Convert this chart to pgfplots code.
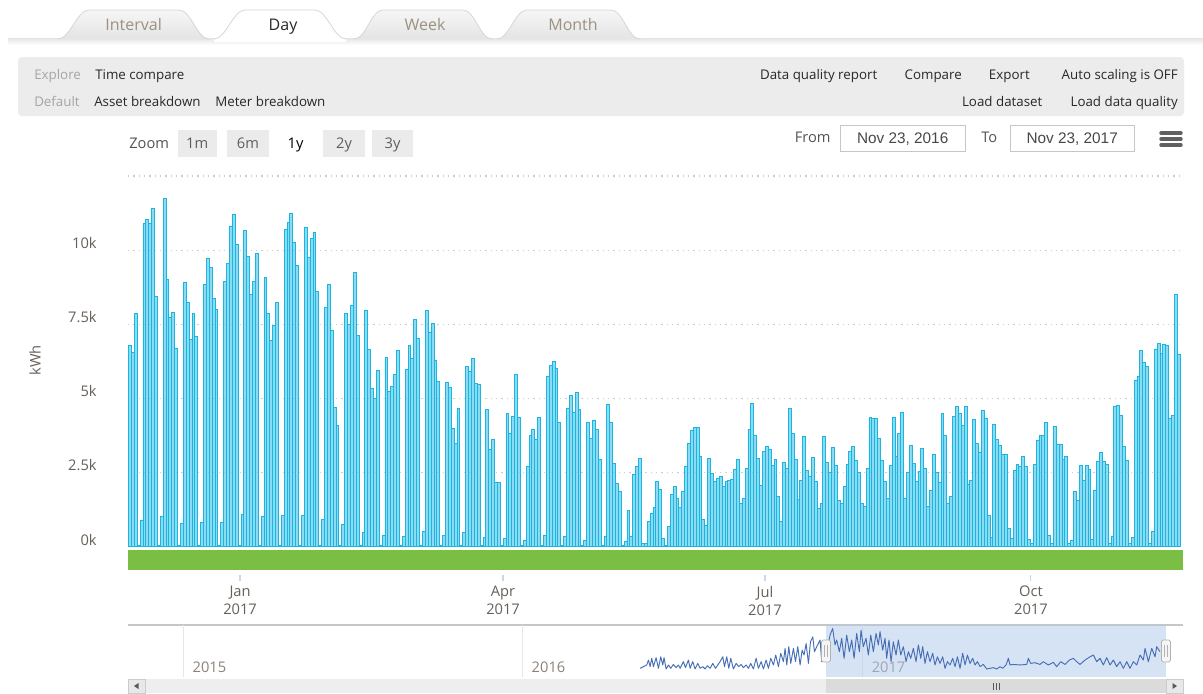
\documentclass[border=0pt]{standalone}
\usepackage{fontspec}
\setmainfont{Open Sans}
\newfontfamily\datefont{Liberation Sans}
\usepackage{pgfplots}
\pgfplotsset{compat=1.18}
\usepackage{pgfplotstable}

\definecolor{barfill}{RGB}{90,205,237}
\definecolor{barline}{RGB}{28,181,226}
\definecolor{gridc}{RGB}{205,205,205}
\definecolor{greenc}{RGB}{122,190,68}
\definecolor{tickc}{RGB}{204,214,235}
\definecolor{labc}{RGB}{102,96,90}
\definecolor{navline}{RGB}{70,110,180}
\definecolor{navsel}{RGB}{175,201,237}
\definecolor{navgrid}{RGB}{230,230,230}
\definecolor{navlab}{RGB}{140,130,120}
\definecolor{tbbg}{RGB}{236,236,236}
\definecolor{btnbg}{RGB}{235,235,235}
\definecolor{tabtop}{RGB}{246,246,246}
\definecolor{tabbot}{RGB}{228,228,228}
\definecolor{tabedge}{RGB}{214,214,214}
\definecolor{tabtxt}{RGB}{155,145,130}
\definecolor{dark}{RGB}{40,40,40}
\definecolor{lgray}{RGB}{165,165,165}

% daily kWh (thousands), 23 Nov 2016 onwards
\pgfplotstableread[row sep=\\]{
v\\
6.8\\ 6.55\\ 7.87\\ 0.05\\ 0.87\\
10.9\\ 11.05\\ 10.9\\ 11.4\\ 8.45\\ 0.05\\ 1.0\\
11.75\\ 9.0\\ 7.73\\ 7.9\\ 6.7\\ 0.05\\ 0.78\\
8.9\\ 8.25\\ 7.0\\ 7.87\\ 7.1\\ 0.05\\ 0.8\\
8.85\\ 9.72\\ 9.4\\ 8.37\\ 8.0\\ 0.05\\ 0.8\\
8.95\\ 9.55\\ 10.8\\ 11.2\\ 10.2\\ 0.05\\ 1.1\\
10.65\\ 9.8\\ 8.5\\ 8.95\\ 9.9\\ 0.05\\ 1.0\\
9.07\\ 7.85\\ 6.95\\ 7.45\\ 8.22\\ 0.05\\ 1.05\\
10.7\\ 10.95\\ 11.25\\ 10.25\\ 9.5\\ 0.05\\ 1.05\\
10.75\\ 9.77\\ 10.4\\ 10.6\\ 8.6\\ 0.05\\ 0.9\\
8.08\\ 8.85\\ 7.3\\ 4.7\\ 4.1\\ 0.05\\ 0.74\\
7.87\\ 7.5\\ 8.15\\ 9.24\\ 7.13\\ 0.05\\ 0.48\\
7.97\\ 6.64\\ 5.32\\ 5.0\\ 5.93\\ 0.05\\ 0.39\\
6.38\\ 5.23\\ 5.4\\ 5.82\\ 6.6\\ 0.05\\ 0.33\\
5.99\\ 6.8\\ 6.35\\ 7.66\\ 7.03\\ 0.05\\ 0.52\\
7.95\\ 7.22\\ 7.52\\ 6.29\\ 5.58\\ 0.05\\ 0.38\\
5.52\\ 5.37\\ 4.0\\ 3.48\\ 4.66\\ 0.05\\ 0.48\\
6.07\\ 5.9\\ 6.33\\ 5.5\\ 5.46\\ 0.05\\ 0.3\\
4.63\\ 3.28\\ 3.61\\ 2.17\\ 2.17\\ 0.05\\ 0.27\\
4.49\\ 3.82\\ 4.38\\ 5.82\\ 4.35\\ 0.05\\ 0.19\\
2.69\\ 3.75\\ 3.95\\ 3.61\\ 4.35\\ 0.05\\ 0.39\\
5.73\\ 6.11\\ 6.26\\ 6.02\\ 4.18\\ 0.05\\ 0.35\\
4.66\\ 5.1\\ 4.52\\ 5.19\\ 4.63\\ 0.05\\ 0.19\\
4.18\\ 3.65\\ 4.27\\ 3.95\\ 2.94\\ 0.05\\ 0.35\\
4.78\\ 4.18\\ 2.82\\ 2.12\\ 1.85\\ 0.05\\ 0.16\\
1.22\\ 0.35\\ 2.43\\ 2.7\\ 2.98\\ 0.1\\ 0.1\\
0.84\\ 1.12\\ 1.32\\ 2.19\\ 1.94\\ 0.27\\ 0.05\\
0.67\\ 1.76\\ 2.04\\ 1.63\\ 1.32\\ 1.85\\ 2.7\\
3.48\\ 3.91\\ 4.01\\ 4.01\\ 3.03\\ 0.92\\ 0.72\\
2.96\\ 2.47\\ 2.19\\ 2.3\\ 2.38\\ 2.02\\ 2.19\\
2.24\\ 2.28\\ 2.6\\ 2.94\\ 1.46\\ 1.63\\ 2.64\\
3.95\\ 4.83\\ 3.74\\ 2.98\\ 2.07\\ 3.22\\ 3.39\\
3.28\\ 2.74\\ 2.94\\ 1.7\\ 0.84\\ 2.83\\ 2.64\\
4.66\\ 3.8\\ 2.94\\ 1.6\\ 2.24\\ 3.7\\ 2.56\\
2.36\\ 3.0\\ 2.19\\ 1.27\\ 1.46\\ 3.7\\ 2.83\\
2.49\\ 3.36\\ 2.73\\ 1.55\\ 1.46\\ 2.02\\ 2.78\\
3.22\\ 3.37\\ 2.9\\ 2.5\\ 1.46\\ 1.34\\ 2.64\\
4.35\\ 4.33\\ 4.31\\ 3.65\\ 2.9\\ 2.19\\ 1.62\\
2.73\\ 4.35\\ 3.03\\ 3.82\\ 4.52\\ 1.63\\ 2.5\\
3.42\\ 2.8\\ 2.19\\ 2.55\\ 3.31\\ 2.64\\ 1.34\\
1.9\\ 3.12\\ 2.5\\ 2.15\\ 4.49\\ 3.76\\ 1.46\\
1.7\\ 4.4\\ 4.72\\ 4.5\\ 4.1\\ 4.74\\ 2.11\\
2.24\\ 4.3\\ 3.48\\ 3.18\\ 4.6\\ 4.32\\ 1.06\\
0.3\\ 4.13\\ 3.61\\ 3.42\\ 3.12\\ 3.12\\ 0.61\\
0.27\\ 2.58\\ 2.78\\ 2.69\\ 3.03\\ 2.69\\ 0.24\\
0.1\\ 2.78\\ 3.57\\ 3.76\\ 3.76\\ 4.19\\ 0.39\\
0.1\\ 4.04\\ 3.46\\ 3.46\\ 2.94\\ 3.03\\ 0.1\\
0.2\\ 1.85\\ 1.55\\ 2.73\\ 2.24\\ 2.73\\ 2.6\\
0.24\\ 1.9\\ 2.86\\ 3.17\\ 2.86\\ 2.78\\ 0.1\\
0.33\\ 4.74\\ 4.77\\ 4.44\\ 3.39\\ 2.92\\ 0.1\\
0.3\\ 5.62\\ 5.75\\ 6.6\\ 6.2\\ 6.07\\ 0.1\\
0.5\\ 6.65\\ 6.85\\ 6.52\\ 6.82\\ 6.8\\ 4.32\\
4.44\\ 8.5\\ 6.48\\
}\daily

% navigator line, day index (0 = 23 Nov 2016) and kWh (thousands)
\pgfplotstableread[row sep=\\]{
k v\\
-201.9 0.19\\ -198.3 0.67\\ -194.7 1.15\\ -192.9 2.57\\ -191.1 0.67\\ -189.3 3.05\\
-187.5 0.67\\ -184.6 3.24\\ -182.1 0.19\\ -179.6 3.5\\ -177.4 1.15\\ -176.0 3.24\\
-173.8 0\\ -171.3 1.15\\ -168.8 0.19\\ -165.9 1.3\\ -163.0 0.38\\ -160.5 1.15\\
-158.7 0.19\\ -155.1 2.1\\ -152.9 0.38\\ -149.7 2.57\\ -147.9 0.19\\ -145.0 2.1\\
-142.5 0\\ -139.6 1.6\\ -137.1 0.19\\ -134.2 0.67\\ -131.7 0\\ -129.2 0.95\\
-126.3 0.19\\ -123.4 1.6\\ -120.5 0.19\\ -118.0 1.15\\ -115.5 2.1\\ -112.6 3.5\\
-110.8 0.67\\ -108.3 3.5\\ -106.1 0.19\\ -104.0 3.05\\ -101.1 0\\ -98.2 1.6\\
-95.3 0.67\\ -92.8 1.3\\ -90.3 0.38\\ -87.4 1.15\\ -84.9 0.19\\ -82.4 1.6\\
-79.5 0\\ -76.6 3.05\\ -74.1 0.19\\ -71.2 2.1\\ -68.7 0\\ -65.8 2.57\\
-63.3 0.19\\ -60.8 3.05\\ -57.9 1.15\\ -55.4 4.0\\ -52.5 0.67\\ -50.0 4.5\\
-47.1 2.1\\ -45.3 5.9\\ -43.5 1.15\\ -41.3 6.4\\ -39.2 1.6\\ -36.3 5.9\\
-34.1 2.1\\ -31.6 6.4\\ -29.1 1.15\\ -26.9 5.4\\ -24.8 4.0\\ -22.6 7.3\\
-20.1 1.6\\ -17.9 7.8\\ -15.4 9.2\\ -13.6 4.95\\ -11.1 6.4\\ -7.5 8.3\\
-5.8 2.1\\ 0.4 5.9\\ 3.2 9.7\\ 6.1 11.6\\ 8.6 6.9\\ 10.4 8.3\\
13.3 4.95\\ 15.8 8.8\\ 18.4 3.05\\ 21.2 9.7\\ 24.1 4.95\\ 26.6 8.3\\
29.2 3.05\\ 32.0 10.2\\ 34.9 4.95\\ 36.7 11.1\\ 39.2 6.4\\ 42.1 8.8\\
44.6 4.0\\ 47.2 9.7\\ 50.0 4.95\\ 52.9 10.2\\ 55.4 6.9\\ 57.2 10.7\\
60.1 5.4\\ 62.6 8.8\\ 64.4 3.05\\ 66.9 8.3\\ 69.1 2.1\\ 71.6 7.8\\
74.5 4.0\\ 77.0 8.3\\ 79.6 4.0\\ 82.4 6.4\\ 85.3 2.1\\ 87.8 4.95\\
90.4 3.05\\ 93.2 5.9\\ 96.1 2.1\\ 98.6 6.9\\ 101.2 3.05\\ 103.3 6.4\\
105.8 1.6\\ 108.4 4.95\\ 111.2 2.1\\ 114.1 4.5\\ 116.6 1.15\\ 119.2 3.5\\
122.0 1.6\\ 124.9 3.5\\ 127.4 0.19\\ 130.0 2.1\\ 132.8 1.15\\ 135.7 3.05\\
138.2 0.67\\ 140.8 3.5\\ 143.6 0.19\\ 146.5 4.5\\ 149.0 1.15\\ 151.6 4.0\\
154.4 1.6\\ 157.3 3.05\\ 159.8 1.15\\ 162.4 2.1\\ 165.2 0.67\\ 168.8 1.3\\
172.4 0\\ 176.0 0.19\\ 179.6 0.38\\ 183.2 0\\ 186.8 0.67\\ 189.7 0.19\\
193.3 1.15\\ 195.8 3.05\\ 197.6 1.15\\ 201.2 1.3\\ 208.4 1.15\\ 215.6 1.3\\
217.4 3.05\\ 219.9 1.6\\ 224.6 1.8\\ 230.0 1.3\\ 233.6 2.1\\ 239.0 1.15\\
244.4 1.9\\ 248.0 0.67\\ 252.4 2.1\\ 257.0 1.3\\ 261.7 2.57\\ 266.0 3.05\\
269.6 2.1\\ 273.2 1.3\\ 278.6 2.57\\ 284.0 3.5\\ 287.6 4.0\\ 291.2 2.1\\
294.8 3.05\\ 298.4 1.15\\ 302.0 3.24\\ 305.6 1.15\\ 309.2 2.57\\ 312.8 0.67\\
316.4 2.1\\ 320.0 0.19\\ 323.6 2.1\\ 327.2 0.19\\ 330.8 2.1\\ 334.4 1.15\\
338.0 4.0\\ 341.6 2.57\\ 343.4 5.9\\ 347.0 2.1\\ 350.6 5.9\\ 354.2 3.5\\
356.0 6.4\\ 359.6 4.95\\
}\nav

\newcommand\tabpath[4]{(#1,39) .. controls (#1+12,39) and (#2-5,10) .. (#2+7,10) -- (#3-7,10) .. controls (#3+5,10) and (#4-12,39) .. (#4,39)}
\newcommand\tbf{\fontsize{10}{12}\selectfont}
\newcommand\bigf{\fontsize{11}{13}\selectfont}

\begin{document}
\begin{tikzpicture}
\begin{scope}[x=0.75pt,y=-0.75pt]
\path[use as bounding box] (0,0) rectangle (1203,693);
\fill[white] (0,0) rectangle (1203,693);
% tabs
\shade[top color=tabbot, bottom color=white] (8,38) rectangle (1203,45);
\foreach \a/\b/\c/\d in {58/82/186/209, 354/376/470/492, 497/520/618/640}{
  \shade[top color=tabtop, bottom color=tabbot] \tabpath{\a}{\b}{\c}{\d} -- cycle;
  \draw[tabedge, line width=0.6pt] \tabpath{\a}{\b}{\c}{\d};
}
\fill[white] \tabpath{214}{238}{322}{346} -- (346,42) -- (214,42) -- cycle;
\draw[tabedge, line width=0.6pt] \tabpath{214}{238}{322}{346};
\node[anchor=base, text=tabtxt, font=\fontsize{12}{14}\selectfont] at (133.6,30.7) {Interval};
\node[anchor=base, text=dark, font=\fontsize{12}{14}\selectfont] at (283,30.7) {Day};
\node[anchor=base, text=tabtxt, font=\fontsize{12}{14}\selectfont] at (425,30.7) {Week};
\node[anchor=base, text=tabtxt, font=\fontsize{12}{14}\selectfont] at (573,30.7) {Month};
% toolbar
\fill[tbbg, rounded corners=3pt] (18,57) rectangle (1184,116);
\node[anchor=base west, text=lgray, font=\tbf, inner sep=0] at (34,79) {Explore};
\node[anchor=base west, text=dark, font=\tbf, inner sep=0] at (95,79) {Time compare};
\node[anchor=base west, text=lgray, font=\tbf, inner sep=0] at (34,106.5) {Default};
\node[anchor=base west, text=dark, font=\tbf, inner sep=0] at (94,106.5) {Asset breakdown};
\node[anchor=base west, text=dark, font=\tbf, inner sep=0] at (215,106.5) {Meter breakdown};
\node[anchor=base east, text=dark, font=\tbf, inner sep=0] at (877.5,79) {Data quality report};
\node[anchor=base east, text=dark, font=\tbf, inner sep=0] at (962,79) {Compare};
\node[anchor=base east, text=dark, font=\tbf, inner sep=0] at (1030,79) {Export};
\node[anchor=base east, text=dark, font=\tbf, inner sep=0] at (1178,79) {Auto scaling is OFF};
\node[anchor=base east, text=dark, font=\tbf, inner sep=0] at (1042.6,106.5) {Load dataset};
\node[anchor=base east, text=dark, font=\tbf, inner sep=0] at (1178,106.5) {Load data quality};
% zoom buttons
\node[anchor=base west, text=dark!80, font=\bigf, inner sep=0] at (129,148.2) {Zoom};
\foreach \l/\r/\t in {178/216.5/1m, 227/269/6m, 323/365/2y, 372/413/3y}{
  \fill[btnbg] (\l,130) rectangle (\r,157);
  \node[anchor=base, text=dark!75, font=\bigf, inner sep=0] at ({(\l+\r)/2},148.2) {\t};
}
\node[anchor=base, text=black, font=\bigf, inner sep=0] at (295.5,148.2) {1y};
% date range
\node[anchor=base west, text=dark!80, font=\bigf, inner sep=0] at (794.6,142.3) {From};
\node[anchor=base west, text=dark!80, font=\bigf, inner sep=0] at (981,142.3) {To};
\filldraw[fill=white, draw=gray!45, line width=0.7pt] (840.5,125) rectangle (965,151);
\filldraw[fill=white, draw=gray!45, line width=0.7pt] (1010,125) rectangle (1134.5,151);
\node[anchor=base, text=dark!85, font=\datefont\fontsize{11.5}{13}\selectfont, inner sep=0] at (902.7,143.5) {Nov 23, 2016};
\node[anchor=base, text=dark!85, font=\datefont\fontsize{11.5}{13}\selectfont, inner sep=0] at (1072.2,143.5) {Nov 23, 2017};
\foreach \yy in {133,139,145}
  \draw[gray!75!black, line width=2.6pt, line cap=round] (1161,\yy) -- (1181,\yy);
% data quality band
\fill[greenc] (128,550) rectangle (1183,570);
\draw[gray!45, line width=1pt] (128,625) -- (1183,625);
\end{scope}

% main chart
\begin{axis}[
  at={(96pt,-409.875pt)}, anchor=south west,
  scale only axis, width=791.25pt, height=277.875pt,
  xmin=-0.69, xmax=365.5, ymin=0, ymax=12.5,
  axis line style={draw=none},
  ybar, bar width=1,
  tick pos=left,
  ytick={0,2.5,5,7.5,10,12.5},
  yticklabels={0k,2.5k,5k,7.5k,10k,{}},
  ymajorgrids,
  major grid style={draw=gridc, line width=0.9pt, dash pattern=on 1.1pt off 2.9pt},
  ytick style={draw=none},
  yticklabel style={font=\bigf, text=labc, xshift=-20pt, yshift=5.25pt},
  xtick={38.2,129.5,220.4,312.7},
  xticklabels={{Jan\\2017},{Apr\\2017},{Jul\\2017},{Oct\\2017}},
  xticklabel style={align=center, font=\fontsize{11}{13.5}\selectfont, text=labc, yshift=-21.8pt},
  xtick style={draw=tickc, line width=0.9pt, yshift=-21.4pt},
  major tick length=4.5pt,
  ylabel={kWh},
  every axis y label/.style={at={([xshift=-69.75pt]rel axis cs:0,0.503)}, rotate=90, anchor=center, font=\bigf, text=labc},
]
\addplot[fill=barfill, fill opacity=0.7, draw=barline, line width=0.6pt]
  table[x expr=\coordindex, y=v] {\daily};
\end{axis}

% navigator
\begin{axis}[
  at={(96pt,-507.75pt)}, anchor=south west,
  scale only axis, width=791.25pt, height=39pt,
  xmin=-754.9, xmax=384.4, ymin=-2.3, ymax=12.6,
  axis line style={draw=none},
  ytick=\empty,
  xtick={-695.5,-329.4,37.8},
  xticklabels={2015,2016,2017},
  xmajorgrids,
  major grid style={draw=navgrid, line width=0.75pt},
  major tick length=0pt,
  xticklabel style={anchor=base west, font=\bigf, text=navlab, xshift=3.75pt, yshift=3.75pt},
]
\fill[navsel, fill opacity=0.5] (axis cs:-1.08,-2.3) rectangle (axis cs:366.1,12.6);
\addplot[draw=navline, line width=0.7pt, line join=round] table[x=k, y=v] {\nav};
\end{axis}

\begin{scope}[x=0.75pt,y=-0.75pt]
% scrollbar
\fill[gray!13] (128,679) rectangle (1183,693);
\fill[gray!28] (826,679) rectangle (1166,693);
\foreach \xx in {993,996,999} \draw[gray!70!black, line width=0.6pt] (\xx,683) -- (\xx,690);
\filldraw[fill=gray!18, draw=gray!40, line width=0.6pt] (128,679) rectangle (145,693);
\filldraw[fill=gray!18, draw=gray!40, line width=0.6pt] (1166,679) rectangle (1183,693);
\fill[gray!70!black] (134,686) -- (138.5,683) -- (138.5,689) -- cycle;
\fill[gray!70!black] (1177,686) -- (1172.5,683) -- (1172.5,689) -- cycle;
% navigator handles
\foreach \hx in {826,1166}{
  \filldraw[fill=gray!8, draw=gray!60, line width=0.6pt, rounded corners=1.2pt] (\hx-4.5,640) rectangle (\hx+4.5,662);
  \draw[gray!60, line width=0.5pt] (\hx-1.2,645) -- (\hx-1.2,657) (\hx+1.2,645) -- (\hx+1.2,657);
}
\end{scope}
\end{tikzpicture}
\end{document}
